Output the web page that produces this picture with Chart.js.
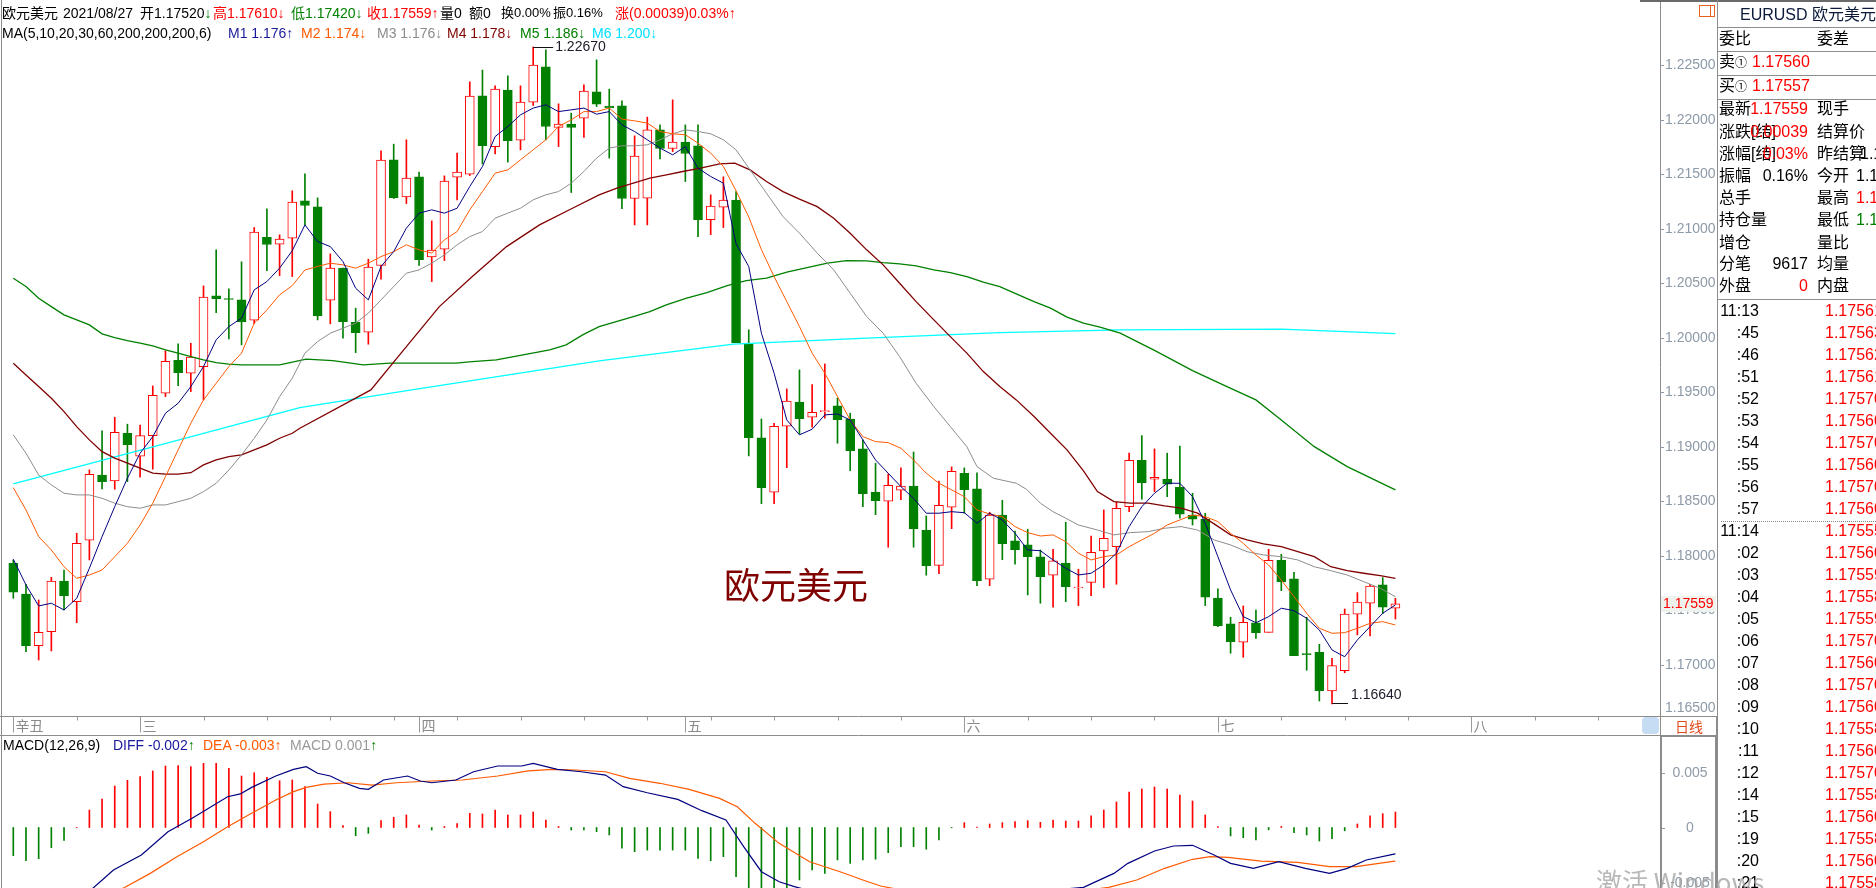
<!DOCTYPE html>
<html lang="zh-CN">
<head>
<meta charset="utf-8">
<title>欧元美元 日线</title>
<script src="https://cdn.jsdelivr.net/npm/chart.js@4.4.1/dist/chart.umd.min.js"></script>
<style>
  html, body { margin: 0; padding: 0; }
  body { width: 1876px; height: 888px; overflow: hidden; background: #fff; position: relative;
         font-family: "Liberation Sans", Arial, "Noto Sans CJK SC", sans-serif; }
  canvas { position: absolute; left: 0; }
  .t { position: absolute; white-space: nowrap; font-size: 14px; line-height: 16px; }
  #side { position: absolute; left: 1717px; top: 0; width: 159px; height: 888px; overflow: hidden; }
  #side .t { font-size: 16px; line-height: 18px; }
  .hl { position: absolute; left: 0; width: 159px; height: 1px; background: #8c8c8c; }
  .r { text-align: right; width: 80px; }
  .red { color: #f00; } .grn { color: #008000; }
</style>
</head>
<body>
<canvas id="kline" width="1717" height="735" style="top:0"></canvas>
<canvas id="macd" width="1717" height="153" style="top:735px"></canvas>

<!-- header lines -->
<div class="t" style="left:2px;top:5px">欧元美元</div>
<div class="t" style="left:63px;top:5px">2021/08/27</div>
<div class="t" style="left:140px;top:5px">开1.17520<span class="grn">↓</span></div>
<div class="t red" style="left:213px;top:5px">高1.17610↓</div>
<div class="t grn" style="left:291px;top:5px">低1.17420↓</div>
<div class="t red" style="left:367px;top:5px">收1.17559↑</div>
<div class="t" style="left:440px;top:5px">量0</div>
<div class="t" style="left:469px;top:5px">额0</div>
<div class="t" style="left:501px;top:5px;font-size:13px">换0.00%</div>
<div class="t" style="left:553px;top:5px;font-size:13px">振0.16%</div>
<div class="t red" style="left:615px;top:5px">涨(0.00039)0.03%↑</div>

<div class="t" style="left:2px;top:25px">MA(5,10,20,30,60,200,200,200,6)</div>
<div class="t" style="left:228px;top:25px;color:#1a1a9c">M1 1.176↑</div>
<div class="t" style="left:301px;top:25px;color:#ff5a00">M2 1.174↓</div>
<div class="t" style="left:377px;top:25px;color:#8c8c8c">M3 1.176↓</div>
<div class="t" style="left:447px;top:25px;color:#800000">M4 1.178↓</div>
<div class="t" style="left:520px;top:25px;color:#008000">M5 1.186↓</div>
<div class="t" style="left:592px;top:25px;color:#00e0ff">M6 1.200↓</div>

<div class="t" style="left:724px;top:565px;font-size:36px;line-height:36px;color:#800000;font-family:'Noto Sans CJK SC'">欧元美元</div>

<div class="t" style="left:3px;top:737px">MACD(12,26,9)</div>
<div class="t" style="left:113px;top:737px;color:#1a1a9c">DIFF -0.002<span class="grn">↑</span></div>
<div class="t" style="left:203px;top:737px;color:#ff5a00">DEA -0.003↑</div>
<div class="t" style="left:290px;top:737px;color:#999">MACD 0.001<span class="grn">↑</span></div>

<!-- frame pieces -->
<div style="position:absolute;left:1px;top:0;width:1px;height:888px;background:#8c8c8c"></div>
<div style="position:absolute;left:1640px;top:0;width:236px;height:2px;background:#6a6a6a"></div>
<div style="position:absolute;left:1699px;top:5px;width:10px;height:10px;border:1px solid #e8601c"></div>
<div style="position:absolute;left:1710px;top:5px;width:3px;height:10px;border:1px solid #e8601c"></div>
<div style="position:absolute;left:1642px;top:717px;width:17px;height:17px;border-radius:4px;background:#c6dcf2"></div>
<div class="t" style="left:1675px;top:718px;color:#e04a1a;font-family:'Noto Sans CJK SC'">日线</div>

<div id="side">
  <div style="position:absolute;left:0;top:0;width:1px;height:888px;background:#8c8c8c"></div>
  <div class="t" style="left:23px;top:6px;color:#0c1a3a">EURUSD 欧元美元</div>
  <div class="hl" style="top:27px"></div>
  <div class="t" style="left:2px;top:30px">委比</div><div class="t" style="left:100px;top:30px">委差</div>
  <div class="hl" style="top:51px"></div>
  <div class="t" style="left:2px;top:53px">卖<span style="font-size:12px">①</span></div><div class="t red" style="left:35px;top:53px">1.17560</div>
  <div class="hl" style="top:75px"></div>
  <div class="t" style="left:2px;top:77px">买<span style="font-size:12px">①</span></div><div class="t red" style="left:35px;top:77px">1.17557</div>
  <div class="hl" style="top:99px"></div>
  <div class="t" style="left:2px;top:100px">最新</div><div class="t red r" style="left:11px;top:100px">1.17559</div><div class="t" style="left:100px;top:100px">现手</div>
  <div class="t" style="left:2px;top:123px">涨跌[结]</div><div class="t red r" style="left:11px;top:123px">0.00039</div><div class="t" style="left:100px;top:123px">结算价</div>
  <div class="t" style="left:2px;top:145px">涨幅[结]</div><div class="t red r" style="left:11px;top:145px">0.03%</div><div class="t" style="left:100px;top:145px">昨结算</div><div class="t" style="left:143px;top:145px">1.17520</div>
  <div class="t" style="left:2px;top:167px">振幅</div><div class="t r" style="left:11px;top:167px">0.16%</div><div class="t" style="left:100px;top:167px">今开</div><div class="t" style="left:139px;top:167px">1.17520</div>
  <div class="t" style="left:2px;top:189px">总手</div><div class="t" style="left:100px;top:189px">最高</div><div class="t red" style="left:139px;top:189px">1.17610</div>
  <div class="t" style="left:2px;top:211px">持仓量</div><div class="t" style="left:100px;top:211px">最低</div><div class="t grn" style="left:139px;top:211px">1.17420</div>
  <div class="t" style="left:2px;top:234px">增仓</div><div class="t" style="left:100px;top:234px">量比</div>
  <div class="t" style="left:2px;top:255px">分笔</div><div class="t r" style="left:11px;top:255px">9617</div><div class="t" style="left:100px;top:255px">均量</div>
  <div class="t" style="left:2px;top:277px">外盘</div><div class="t red r" style="left:11px;top:277px">0</div><div class="t" style="left:100px;top:277px">内盘</div>
  <div class="hl" style="top:299px"></div>
  <div style="position:absolute;left:4px;top:521px;width:155px;border-top:1px dotted #888"></div>
  <div id="ticks"></div>
</div>

<div class="t" style="left:1596px;top:866px;font-size:26px;line-height:30px;color:rgba(160,160,160,0.75);font-family:'Noto Sans CJK SC','Liberation Sans'">激活 Windows</div>

<script>
// daily candles, oldest first (last bar = 2021/08/27)
const opens = [1.17932,1.1765,1.17175,1.17304,1.17769,1.17579,1.18143,1.18742,1.18687,1.19125,
  1.18914,1.19103,1.19492,1.19795,1.19676,1.19737,1.20386,1.20358,1.20349,1.20163,
  1.20924,1.2086,1.20915,1.21258,1.21203,1.20346,1.2064,1.20144,1.20052,1.20664,
  1.21634,1.21294,1.21478,1.20744,1.20814,1.21475,1.21503,1.22222,1.21756,1.22274,
  1.21815,1.22164,1.22488,1.21931,1.21962,1.22017,1.22258,1.22127,1.2213,1.21279,
  1.21282,1.2191,1.21738,1.21797,1.21763,1.21086,1.212,1.21264,1.19948,1.19082,
  1.18584,1.19189,1.19412,1.19272,1.19324,1.19376,1.19254,1.18981,1.18586,1.18501,
  1.18602,1.18641,1.18235,1.17913,1.18446,1.18758,1.18614,1.17785,1.18375,1.18137,
  1.181,1.1799,1.17822,1.17932,1.17705,1.17757,1.18045,1.18084,1.18451,1.18877,
  1.18703,1.18703,1.18629,1.18375,1.18338,1.17613,1.17375,1.17207,1.17386,1.17298,
  1.17959,1.17788,1.17099,1.17115,1.1676,1.16946,1.17464,1.17565,1.17733,1.1752];
const highs = [1.17962,1.17739,1.17595,1.17803,1.1787,1.18207,1.18788,1.19146,1.19272,1.19208,
  1.19199,1.19559,1.19881,1.19945,1.19951,1.20477,1.20808,1.2045,1.20698,1.21013,
  1.21184,1.20946,1.2135,1.21506,1.21285,1.20771,1.2064,1.20273,1.20722,1.21717,
  1.21778,1.21818,1.21521,1.21074,1.21487,1.21696,1.2235,1.22458,1.22313,1.22405,
  1.22313,1.2267,1.22644,1.22148,1.22063,1.22322,1.22552,1.22283,1.22176,1.21854,
  1.22026,1.21955,1.22185,1.21955,1.21955,1.21313,1.21478,1.21343,1.20074,1.19256,
  1.19217,1.19532,1.19706,1.19571,1.19761,1.19447,1.19309,1.19064,1.1885,1.18752,
  1.18807,1.18953,1.18366,1.18687,1.18816,1.18807,1.18761,1.184,1.1851,1.18228,
  1.18244,1.18054,1.1806,1.18308,1.17877,1.18182,1.18421,1.18497,1.18942,1.19103,
  1.18981,1.18942,1.19008,1.18574,1.18391,1.17696,1.17436,1.1754,1.17503,1.1806,
  1.18014,1.17849,1.17436,1.17188,1.1706,1.17512,1.17662,1.17739,1.178,1.1761];
const lows = [1.1761,1.1712,1.17044,1.17127,1.17503,1.17386,1.17962,1.18614,1.18611,1.18681,
  1.18721,1.18795,1.19461,1.19562,1.19507,1.19431,1.20232,1.19991,1.19936,1.20131,
  1.20618,1.20572,1.20563,1.21037,1.20165,1.20129,1.19997,1.19865,1.19942,1.20539,
  1.21279,1.21233,1.20664,1.20517,1.2071,1.21267,1.2149,1.21597,1.21689,1.21613,
  1.21726,1.22133,1.21818,1.21756,1.21334,1.21839,1.22123,1.2165,1.21187,1.21037,
  1.21037,1.21643,1.2171,1.21435,1.2093,1.20948,1.21013,1.19957,1.18917,1.18479,
  1.18479,1.18809,1.19121,1.1918,1.19263,1.19033,1.18782,1.18451,1.18378,1.18079,
  1.18516,1.18079,1.17822,1.17836,1.18249,1.18391,1.17726,1.17726,1.17965,1.17923,
  1.17641,1.17565,1.17528,1.17579,1.17543,1.17634,1.17708,1.17739,1.18405,1.18519,
  1.18589,1.18543,1.18345,1.18283,1.17543,1.1735,1.17106,1.17069,1.17243,1.17298,
  1.1768,1.17084,1.1695,1.16668,1.1664,1.16927,1.17274,1.17264,1.17469,1.1742];
const closes = [1.17666,1.17175,1.17298,1.17769,1.17634,1.18115,1.18749,1.18681,1.19134,1.1902,
  1.19103,1.19474,1.19786,1.19681,1.19823,1.20374,1.20361,1.20352,1.2015,1.2097,
  1.20857,1.20906,1.21246,1.21215,1.20202,1.2064,1.2015,1.20049,1.20649,1.21631,
  1.21288,1.21466,1.20719,1.20805,1.21439,1.21521,1.22219,1.21765,1.22283,1.21811,
  1.22164,1.22503,1.2194,1.21962,1.21931,1.22265,1.22145,1.22111,1.21279,1.21668,
  1.2191,1.21738,1.21797,1.21692,1.21086,1.21209,1.21264,1.19957,1.19085,1.18626,
  1.19189,1.19419,1.19259,1.19318,1.1933,1.1925,1.18965,1.18571,1.18506,1.18648,
  1.18639,1.18249,1.1791,1.18464,1.18776,1.18607,1.17772,1.18375,1.18112,1.18057,
  1.17992,1.17809,1.17953,1.17717,1.17712,1.18033,1.18161,1.18437,1.18877,1.18672,
  1.18721,1.18657,1.18382,1.18336,1.1762,1.17359,1.17212,1.1739,1.17295,1.17959,
  1.17763,1.17084,1.17093,1.16762,1.16992,1.17466,1.17576,1.17723,1.17528,1.17559];

// moving averages
const ma5 = [1.17969,1.17733,1.1754,1.17565,1.17503,1.1761,1.17886,1.18176,1.18451,1.18712,
  1.18942,1.19094,1.19309,1.194,1.19553,1.19737,1.19982,1.20104,1.20181,1.20441,
  1.20517,1.2064,1.208,1.21037,1.20884,1.20838,1.207,1.20456,1.20349,1.20655,
  1.20792,1.21007,1.21145,1.21175,1.21145,1.2119,1.21389,1.21573,1.21848,1.2194,
  1.22047,1.22109,1.22139,1.22077,1.22093,1.22109,1.22053,1.22077,1.21955,1.21894,
  1.21818,1.21742,1.2168,1.21756,1.21558,1.21481,1.2142,1.20865,1.20655,1.20043,
  1.19676,1.19247,1.1911,1.19162,1.19293,1.19302,1.19247,1.19064,1.1888,1.18758,
  1.18635,1.18528,1.18391,1.18391,1.18405,1.18396,1.18299,1.18391,1.18329,1.18207,
  1.18054,1.18047,1.17962,1.17886,1.17824,1.1784,1.17916,1.18024,1.18268,1.18451,
  1.18574,1.18666,1.18666,1.18543,1.18299,1.17992,1.17687,1.17442,1.17386,1.17442,
  1.17519,1.17497,1.17427,1.17319,1.17136,1.17074,1.17228,1.1735,1.17473,1.17549];
const ma10 = [1.18626,1.18421,1.18176,1.18054,1.179,1.17794,1.17824,1.1787,1.17992,1.18115,
  1.18283,1.18483,1.18727,1.18972,1.19217,1.19431,1.19584,1.19737,1.1986,1.20135,
  1.20257,1.20395,1.2048,1.20624,1.20655,1.20686,1.2067,1.2064,1.20686,1.20746,
  1.20792,1.20854,1.20808,1.20778,1.209,1.20976,1.21175,1.21343,1.21512,1.21542,
  1.21634,1.21726,1.21818,1.2194,1.22001,1.22077,1.22077,1.22109,1.22008,1.21992,
  1.21971,1.21894,1.21873,1.21864,1.21787,1.21696,1.21573,1.2135,1.2111,1.2081,
  1.20563,1.20333,1.20104,1.1986,1.19676,1.19461,1.19247,1.19094,1.19048,1.19039,
  1.18987,1.1888,1.18758,1.18666,1.18605,1.18543,1.18421,1.18384,1.1836,1.18268,
  1.18213,1.18182,1.18192,1.1813,1.18024,1.17962,1.17992,1.18008,1.18084,1.18146,
  1.18207,1.18283,1.18329,1.18375,1.1836,1.18314,1.18207,1.18115,1.18008,1.17916,
  1.17778,1.17625,1.17473,1.17335,1.17289,1.17295,1.17335,1.17381,1.17396,1.17365];
// [bar index, value]
const ma20 = [[0,1.1911],[1,1.18942],[2,1.18742],[3,1.18651],[4,1.18574],[5,1.18559],[6,1.18559],[7,1.18528],
  [8,1.18483],[9,1.18451],[10,1.18437],[11,1.18467],[12,1.18467],[13,1.18497],[14,1.18528],[15,1.18589],
  [16,1.18666],[17,1.18788],[18,1.18926],[19,1.19079],[20,1.19247],[21,1.19461],[22,1.1963],[23,1.1986],
  [24,1.19966],[25,1.20043],[26,1.20089],[27,1.20135],[28,1.20227],[29,1.20349],[30,1.20471],[31,1.20594],
  [32,1.20624],[33,1.20686],[34,1.20762],[35,1.20854],[36,1.2093],[37,1.20976],[38,1.21099],[39,1.21145],
  [40,1.2119],[41,1.21267],[42,1.21313],[43,1.21343],[44,1.2142],[45,1.21527],[46,1.2165],[47,1.21742],
  [48,1.21763],[49,1.21763],[50,1.21772],[51,1.21818],[52,1.21873],[53,1.21909],[54,1.21894],[55,1.21873],
  [56,1.21818],[57,1.21726],[58.1,1.21542],[59.4,1.21328],[60.7,1.21114],[62,1.20961],[63.4,1.20778],
  [64.7,1.20624],[66,1.2041],[67.3,1.20196],[68.6,1.20043],[69.9,1.19828],[71.2,1.19584],[72.6,1.19369],
  [73.9,1.19186],[75.2,1.19002],[76,1.18819],[77.3,1.18712],[79.1,1.18666],[79.9,1.18611],[81,1.18483],
  [82,1.18405],[83,1.18345],[84,1.18283],[85.5,1.18237],[86.8,1.18192],[88.1,1.18213],[89.5,1.18222],
  [90.8,1.18253],[92.1,1.18268],[93.4,1.18237],[94.7,1.18146],[96,1.181],[97.3,1.18038],[98.6,1.18008],
  [100,1.17992],[101.3,1.17962],[102.6,1.179],[103.9,1.17864],[105.2,1.17824],[106.5,1.17763],[107.8,1.17702],[109,1.17625]];
const ma30 = [[0,1.19768],[1,1.1966],[2,1.19553],[3,1.19446],[4,1.19323],[5,1.19186],[6,1.19064],[7,1.18956],
  [8,1.18896],[9,1.1885],[10,1.18804],[11,1.18758],[12,1.18749],[13,1.18749],[14,1.18763],[15,1.18834],
  [16,1.1888],[17,1.1891],[18,1.18926],[19,1.18972],[20,1.19018],[21,1.19079],[22,1.19125],[22.6,1.19171],
  [28.2,1.19523],[31,1.1992],[33.6,1.20287],[36.2,1.20563],[38.9,1.20838],[41.5,1.21037],[44.1,1.2119],
  [46.2,1.21313],[47.6,1.21374],[48.9,1.2142],[50.2,1.21466],[51.5,1.21496],[52.8,1.21527],[54.2,1.21558],
  [55.7,1.21597],[56.9,1.21604],[58.1,1.21542],[59.4,1.21435],[60.7,1.21343],[62,1.21273],[63.4,1.21205],
  [64.7,1.21099],[66,1.20961],[67.3,1.20808],[68.6,1.2067],[69.9,1.20502],[71.2,1.20333],[72.6,1.20165],
  [73.9,1.20012],[75.2,1.1986],[76.5,1.19691],[77.8,1.19553],[79.1,1.19431],[80.5,1.19278],[81.8,1.19125],
  [83.1,1.18972],[84.4,1.1878],[85.5,1.18589],[86.8,1.18497],[88.1,1.18483],[89.5,1.18483],[90.8,1.18458],
  [92.1,1.18437],[93.4,1.18391],[94.7,1.18293],[96,1.18192],[97.3,1.18146],[98.6,1.18109],[100,1.18084],
  [101.3,1.18038],[102.6,1.17992],[103.9,1.179],[105.2,1.17864],[106.5,1.1784],[107.8,1.17818],[109,1.17794]];
const ma60 = [[0,1.20548],[1,1.20471],[2,1.20364],[3,1.20287],[4,1.20211],[5,1.20165],[6,1.20119],[7,1.20037],
  [8,1.20003],[9,1.19975],[10,1.19951],[11,1.19927],[12,1.1989],[13,1.1986],[14,1.19828],[15,1.19798],
  [16,1.19773],[17,1.19759],[18,1.19752],[21,1.19752],[23.1,1.19805],[25.2,1.19792],[27.6,1.19752],
  [29.7,1.19768],[34.9,1.19768],[36.2,1.19782],[38.1,1.19798],[40.2,1.19844],[42.3,1.1989],[43.6,1.19936],
  [44.9,1.20028],[46.2,1.20104],[48.9,1.20196],[50.2,1.20241],[51.5,1.20303],[53.1,1.20364],[54.7,1.20416],
  [56.3,1.2048],[57.8,1.20526],[59.4,1.20548],[61,1.20603],[62.6,1.20645],[64.2,1.20686],[65.7,1.2071],
  [67.3,1.20707],[68.6,1.20691],[69.9,1.20679],[71.2,1.20661],[72.6,1.20624],[73.9,1.206],[75.2,1.20563],
  [76.5,1.20511],[77.8,1.20471],[79.1,1.20404],[80.5,1.20333],[81.8,1.20273],[83.1,1.2019],[84.4,1.20135],
  [85.7,1.20098],[87.3,1.20043],[90,1.19885],[93,1.197],[95.5,1.19565],[98,1.19431],[100,1.19247],
  [102.6,1.19002],[105.2,1.18819],[109,1.18605]];
const ma200 = [[0,1.1866],[11.3,1.19009],[22.6,1.1936],[31.8,1.19529],[46.2,1.19789],[56.8,1.19942],
  [67.3,1.19997],[77.8,1.20049],[87.3,1.20073],[100,1.2008],[109,1.2004]];

// MACD(12,26,9)
const macdBars = [-0.00256,-0.00302,-0.00284,-0.00184,-0.00117,0.00002,0.00159,0.00259,0.00377,0.00429,
  0.00462,0.00514,0.00559,0.00562,0.00553,0.00583,0.00583,0.00538,0.00468,0.00498,
  0.00456,0.00425,0.00432,0.00371,0.00214,0.00144,0.00017,-0.00074,-0.00053,0.00062,
  0.00093,0.00114,0.00023,-0.00023,0.00009,0.00035,0.00129,0.00123,0.00159,0.00114,
  0.00114,0.00141,0.00068,0.00009,-0.00023,-0.00023,-0.00038,-0.00068,-0.00189,-0.0022,
  -0.00205,-0.00205,-0.00205,-0.00205,-0.0028,-0.00302,-0.00265,-0.00447,-0.0065,-0.0075,
  -0.007,-0.006,-0.00477,-0.00386,-0.00417,-0.00295,-0.00326,-0.00295,-0.00288,-0.00229,
  -0.00174,-0.00174,-0.00197,-0.00114,-0.00003,0.00044,0.00003,0.00032,0.00044,0.00053,
  0.00062,0.00047,0.00068,0.00059,0.00059,0.00105,0.00159,0.00232,0.00323,0.0035,
  0.00368,0.0035,0.00295,0.00241,0.00114,0.00009,-0.00077,-0.00093,-0.00114,-0.00021,
  0.00009,-0.00047,-0.00068,-0.00123,-0.00102,-0.0003,0.00032,0.00105,0.00126,0.00141];
const diffLine = [[0,-0.0093],[6.3,-0.0055],[7.9,-0.00386],[10.1,-0.0025],[12.2,-0.00038],[14.1,0.00084],
  [16.9,0.0028],[17.9,0.00305],[18.8,0.00365],[20.7,0.00468],[22.1,0.00529],[23.1,0.00553],[24,0.00493],
  [25,0.00468],[26.1,0.00407],[27.3,0.00356],[28,0.00347],[29.2,0.00432],[31.1,0.00468],[32.1,0.00423],
  [33,0.00407],[34.9,0.00432],[36.3,0.00507],[38.2,0.00559],[40.1,0.00559],[41,0.00583],[42.9,0.00529],
  [44.8,0.00507],[46.7,0.00477],[48.1,0.00371],[50,0.00316],[52.4,0.00256],[54.3,0.00153],[56.2,0.00068],
  [57.6,-0.00174],[59,-0.00402],[60.4,-0.00493],[61.6,-0.00538],[64,-0.0061],[67,-0.0063],[69,-0.0066],
  [72,-0.0069],[74,-0.0064],[77,-0.0061],[80,-0.0059],[84.4,-0.00544],[86.8,-0.00417],[87.9,-0.00326],
  [90,-0.00214],[91.5,-0.00168],[93,-0.00162],[94.7,-0.0025],[96,-0.00326],[97.8,-0.00371],[99.8,-0.00311],
  [101.9,-0.00371],[103.8,-0.00417],[105.2,-0.00371],[106.7,-0.00295],[108.8,-0.00244],[109,-0.0024]];
const deaLine = [[0,-0.008],[8.7,-0.0055],[10.8,-0.00417],[12.9,-0.00265],[15,-0.00129],[16.9,0.00007],
  [18.8,0.00129],[20.7,0.0025],[22.1,0.00326],[23.1,0.00365],[24.5,0.00395],[26.4,0.00407],[28.3,0.00386],
  [30.2,0.00407],[33,0.00423],[35.4,0.00432],[38.2,0.00468],[40.6,0.00514],[42.5,0.00529],[44.3,0.00523],
  [46.7,0.00507],[48.6,0.00447],[51,0.00402],[53.3,0.00347],[55.7,0.00265],[57.1,0.00189],[58.5,0.00038],
  [60.4,-0.00144],[62.8,-0.00311],[65.2,-0.00402],[67,-0.00477],[68.4,-0.00532],[71,-0.0059],[74,-0.0063],
  [77,-0.0063],[80,-0.0062],[84,-0.0058],[86.4,-0.00544],[88.6,-0.00477],[90.8,-0.00371],[93,-0.00289],
  [94.4,-0.00265],[95.8,-0.00271],[98.4,-0.00305],[101.3,-0.00317],[103.8,-0.00356],[105.9,-0.00356],
  [108.8,-0.00308],[109,-0.00305]];

const priceTicks = [1.165,1.17,1.175,1.18,1.185,1.19,1.195,1.2,1.205,1.21,1.215,1.22,1.225];
const macdTicks = [0.005, 0, -0.005];
const axisLabels = [[0,'辛丑'],[10,'三'],[32,'四'],[53,'五'],[75,'六'],[95,'七'],[115,'八']];

// tick-by-tick list on the right
const tickTimes = ['11:13',':45',':46',':51',':52',':53',':54',':55',':56',':57',
  '11:14',':02',':03',':04',':05',':06',':07',':08',':09',':10',':11',':12',':14',':15',':19',':20',':21'];
const tickPrices = ['1.17561','1.17563','1.17562','1.17561','1.17570','1.17560','1.17570','1.17560','1.17570','1.17560',
  '1.17555','1.17560','1.17559','1.17558','1.17559','1.17570','1.17560','1.17570','1.17560','1.17558','1.17560','1.17570',
  '1.17558','1.17560','1.17558','1.17560','1.17558'];

const RED = '#ff0000', GREEN = '#008000';
const AXIS = '#8d9aa8';
const idx = opens.map((_, i) => i);
const up = i => closes[i] >= opens[i];
const pts = arr => arr.map(([x, y]) => ({x, y}));
const X_MIN = -1.049, X_MAX = 129.866;

let html = '';
tickTimes.forEach((t, k) => {
  const top = (k < 10 ? 302 + k * 22 : 522 + (k - 10) * 22);
  html += '<div class="t" style="left:0;width:42px;text-align:right;top:' + top + 'px">' + t + '</div>' +
          '<div class="t red" style="left:108px;top:' + top + 'px">' + tickPrices[k] + '</div>';
});
document.getElementById('ticks').innerHTML = html;

const klineDecor = {
  id: 'klineDecor',
  afterDatasetsDraw(chart) {
    const {ctx, chartArea: a, scales: {x, y}} = chart;
    ctx.save();
    ctx.lineWidth = 1;
    ctx.strokeStyle = '#8c8c8c';
    ctx.beginPath();
    ctx.moveTo(a.right + 0.5, 0); ctx.lineTo(a.right + 0.5, chart.height);
    ctx.moveTo(chart.width - 0.5, a.bottom); ctx.lineTo(chart.width - 0.5, chart.height);
    ctx.stroke();

    // price scale
    ctx.font = '14px "Liberation Sans", Arial';
    ctx.textBaseline = 'middle';
    ctx.textAlign = 'left';
    priceTicks.forEach(v => {
      let py = y.getPixelForValue(v);
      ctx.strokeStyle = AXIS;
      if (py >= a.top && py <= a.bottom) {
        ctx.beginPath(); ctx.moveTo(a.right, Math.round(py) + 0.5); ctx.lineTo(a.right + 4, Math.round(py) + 0.5); ctx.stroke();
      }
      py = Math.min(Math.max(py, a.top + 8), a.bottom - 8);
      ctx.fillStyle = AXIS;
      ctx.fillText(v.toFixed(5), a.right + 5, py);
    });

    // last price tag
    const last = closes[closes.length - 1];
    const ly = y.getPixelForValue(last);
    ctx.fillStyle = '#edf3ec';
    ctx.fillRect(a.right + 1, ly - 8, chart.width - a.right - 2, 16);
    ctx.fillStyle = RED;
    ctx.fillText(last.toFixed(5), a.right + 3, ly);

    // highest / lowest markers
    const hi = highs.indexOf(Math.max(...highs));
    const lo = lows.indexOf(Math.min(...lows));
    ctx.strokeStyle = '#111'; ctx.fillStyle = '#1c1c28';
    const hx = x.getPixelForValue(hi), hy = Math.round(y.getPixelForValue(highs[hi])) + 0.5;
    ctx.beginPath(); ctx.moveTo(hx, hy); ctx.lineTo(hx + 20, hy); ctx.stroke();
    ctx.fillText(highs[hi].toFixed(5), hx + 22, hy);
    const lx = x.getPixelForValue(lo), lyy = Math.round(y.getPixelForValue(lows[lo])) - 0.5;
    ctx.beginPath(); ctx.moveTo(lx, lyy); ctx.lineTo(lx + 16, lyy); ctx.stroke();
    ctx.fillText(lows[lo].toFixed(5), lx + 19, lyy - 8);

    // time strip
    const sTop = a.bottom + 0.5;
    ctx.strokeStyle = '#8c8c8c';
    ctx.beginPath(); ctx.moveTo(0, sTop); ctx.lineTo(chart.width, sTop); ctx.stroke();
    ctx.strokeStyle = '#9a9a9a';
    for (let i = 5; i <= X_MAX; i += 5) {
      if (axisLabels.some(l => l[0] === i)) continue;
      const px = Math.round(x.getPixelForValue(i)) + 0.5;
      ctx.beginPath(); ctx.moveTo(px, sTop); ctx.lineTo(px, sTop + 4); ctx.stroke();
    }
    ctx.font = '14px "Noto Sans CJK SC"';
    ctx.fillStyle = '#8a8a8a';
    axisLabels.forEach(([i, txt]) => {
      const px = Math.round(x.getPixelForValue(i)) + 0.5;
      ctx.beginPath(); ctx.moveTo(px, sTop); ctx.lineTo(px, sTop + 16); ctx.stroke();
      ctx.fillText(txt, px + 2, sTop + 9);
    });
    ctx.restore();
  }
};

const macdDecor = {
  id: 'macdDecor',
  afterDatasetsDraw(chart) {
    const {ctx, chartArea: a, scales: {y}} = chart;
    ctx.save();
    ctx.strokeStyle = '#8c8c8c';
    ctx.lineWidth = 1;
    ctx.beginPath(); ctx.moveTo(0, 0.5); ctx.lineTo(chart.width, 0.5); ctx.stroke();
    ctx.lineWidth = 2;
    ctx.beginPath();
    ctx.moveTo(a.right + 1, 0); ctx.lineTo(a.right + 1, chart.height);
    ctx.moveTo(chart.width - 1, 0); ctx.lineTo(chart.width - 1, chart.height);
    ctx.moveTo(a.right, 1); ctx.lineTo(chart.width, 1);
    ctx.stroke();
    ctx.lineWidth = 1;
    ctx.font = '14px "Liberation Sans", Arial';
    ctx.textBaseline = 'middle';
    ctx.textAlign = 'center';
    ctx.fillStyle = AXIS; ctx.strokeStyle = AXIS;
    macdTicks.forEach(v => {
      const py = Math.round(y.getPixelForValue(v)) + 0.5;
      ctx.beginPath(); ctx.moveTo(a.right + 1, py); ctx.lineTo(a.right + 5, py); ctx.stroke();
      ctx.fillText(v === 0 ? '0' : v.toFixed(3), a.right + 30, py);
    });
    ctx.restore();
  }
};

const lineSet = (data, color, w) => ({
  type: 'line', data, borderColor: color, borderWidth: w || 1, pointRadius: 0, tension: 0, order: 0
});

new Chart(document.getElementById('kline'), {
  type: 'bar',
  data: {
    datasets: [
      lineSet(ma5.map((v, i) => ({x: i, y: v})), '#000080'),
      lineSet(ma10.map((v, i) => ({x: i, y: v})), '#ff5a00'),
      lineSet(pts(ma20), '#8c8c8c'),
      lineSet(pts(ma30), '#800000', 1.3),
      lineSet(pts(ma60), '#008000', 1.3),
      lineSet(pts(ma200), '#00ffff', 1.3),
      {
        label: 'body',
        data: idx.map(i => ({x: i, y: [Math.min(opens[i], closes[i]), Math.max(opens[i], closes[i])]})),
        backgroundColor: idx.map(i => up(i) ? '#ffffff' : GREEN),
        borderColor: idx.map(i => up(i) ? RED : GREEN),
        borderWidth: 1,
        borderSkipped: false,
        barThickness: 9,
        minBarLength: 1,
        grouped: false,
        order: 1
      },
      {
        label: 'wick',
        data: idx.map(i => ({x: i, y: [lows[i], highs[i]]})),
        backgroundColor: idx.map(i => up(i) ? RED : GREEN),
        barThickness: 1,
        grouped: false,
        order: 2
      }
    ]
  },
  options: {
    responsive: false,
    animation: false,
    devicePixelRatio: 1,
    layout: { padding: { left: 0, top: 0, right: 57, bottom: 19 } },
    plugins: { legend: { display: false }, tooltip: { enabled: false } },
    scales: {
      x: { type: 'linear', min: X_MIN, max: X_MAX, display: false, offset: false },
      y: { min: 1.1653, max: 1.23101, display: false }
    }
  },
  plugins: [klineDecor]
});

new Chart(document.getElementById('macd'), {
  type: 'bar',
  data: {
    datasets: [
      lineSet(pts(diffLine), '#000080', 1.2),
      lineSet(pts(deaLine), '#ff5a00', 1.2),
      {
        label: 'MACD',
        data: macdBars.map((v, i) => ({x: i, y: v})),
        backgroundColor: macdBars.map(v => v >= 0 ? RED : GREEN),
        barThickness: 1,
        grouped: false,
        order: 1
      }
    ]
  },
  options: {
    responsive: false,
    animation: false,
    devicePixelRatio: 1,
    layout: { padding: { left: 0, top: 0, right: 57, bottom: 0 } },
    plugins: { legend: { display: false }, tooltip: { enabled: false } },
    scales: {
      x: { type: 'linear', min: X_MIN, max: X_MAX, display: false, offset: false },
      y: { min: -0.0055, max: 0.00841, display: false }
    }
  },
  plugins: [macdDecor]
});
</script>
</body>
</html>
